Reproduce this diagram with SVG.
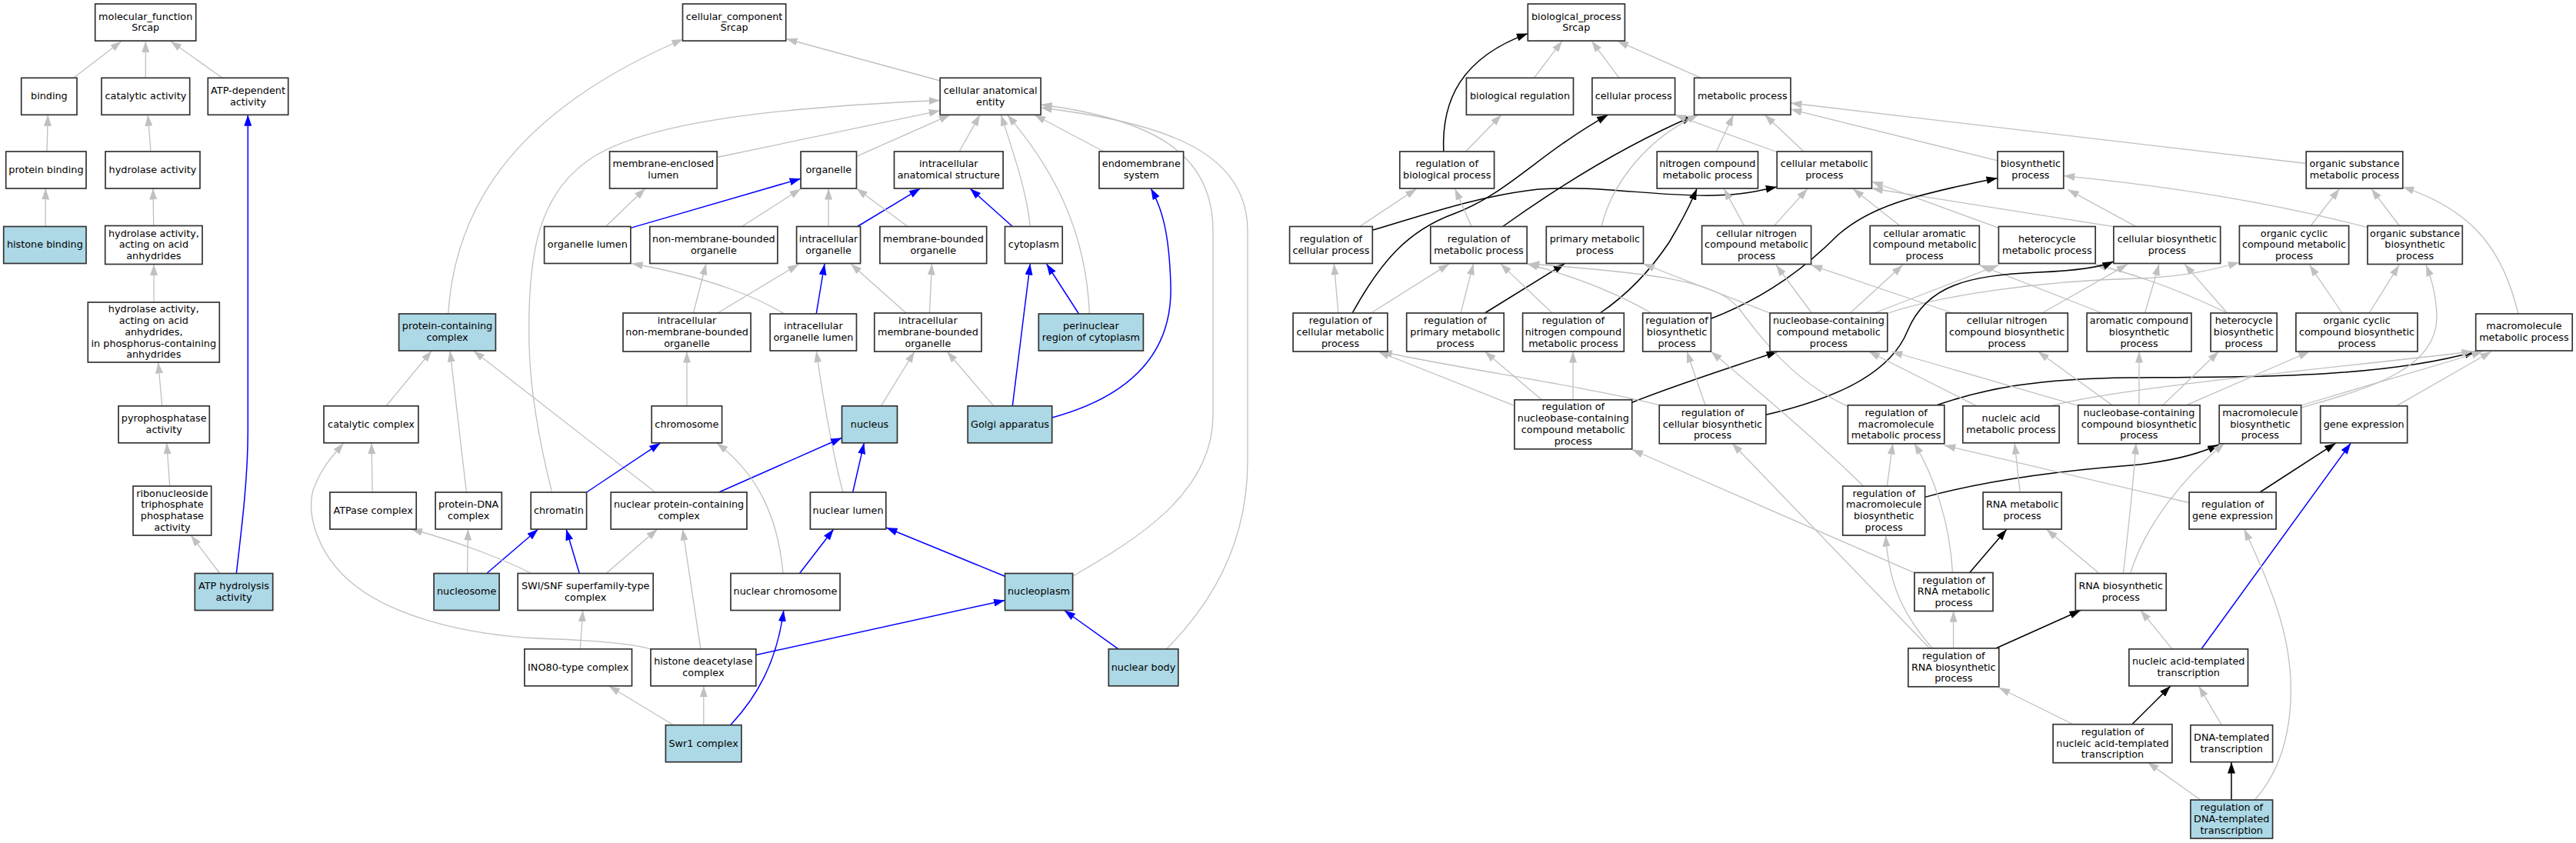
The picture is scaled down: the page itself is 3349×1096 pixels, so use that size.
<svg xmlns="http://www.w3.org/2000/svg" width="3349" height="1096" viewBox="0 0 3349 1096">
<style>
.n rect{fill:#fff;stroke:#333;stroke-width:1.7}
.n.b rect{fill:#add8e6}
text{font-family:"DejaVu Sans","Liberation Sans",sans-serif;font-size:12.8px;text-anchor:middle;fill:#000}
#edges path{fill:none;stroke-width:1.3}
#edges .g{stroke:#c0c0c0;marker-end:url(#ag)}
#edges .u{stroke:#0000ff;stroke-width:1.5;marker-end:url(#ab)}
#edges .k{stroke:#000;stroke-width:1.5;marker-end:url(#ak)}
</style>
<defs>
<marker id="ag" viewBox="0 0 14.5 10" refX="14.5" refY="5" markerWidth="14.5" markerHeight="10" markerUnits="userSpaceOnUse" orient="auto"><path d="M0,0 L14.5,5 L0,10 z" fill="#c0c0c0"/></marker>
<marker id="ab" viewBox="0 0 14.5 10" refX="14.5" refY="5" markerWidth="14.5" markerHeight="10" markerUnits="userSpaceOnUse" orient="auto"><path d="M0,0 L14.5,5 L0,10 z" fill="#0000ff"/></marker>
<marker id="ak" viewBox="0 0 14.5 10" refX="14.5" refY="5" markerWidth="14.5" markerHeight="10" markerUnits="userSpaceOnUse" orient="auto"><path d="M0,0 L14.5,5 L0,10 z" fill="#000"/></marker>
</defs>
<rect width="3349" height="1096" fill="#fff"/>
<g id="edges">
<path class="g" d="M96,101 L158,53.5"/>
<path class="g" d="M189.3,101 L189.3,53.5"/>
<path class="g" d="M288.7,101 L221.7,53.5"/>
<path class="g" d="M61,197 L62.3,149.3"/>
<path class="g" d="M196,197 L192.3,149.3"/>
<path class="g" d="M59,294.5 L59.3,245"/>
<path class="g" d="M199.7,293.5 L199,245"/>
<path class="g" d="M200,393 L200,343.5"/>
<path class="g" d="M210.7,527.8 L205.7,471"/>
<path class="g" d="M220.7,632 L216.7,575.8"/>
<path class="g" d="M285.7,745.5 L248.3,696"/>
<path class="u" d="M307.3,745.5 C315,680 322.3,620 322.3,560 L322.3,149.3"/>
<path class="g" d="M1222.2,105 L1022,50.5"/>
<path class="g" d="M582.7,408 C592,260 680,140 888,51"/>
<path class="g" d="M932.2,204.5 L1222.2,143.8"/>
<path class="g" d="M717.5,639.8 C705,590 690,520 688,450 C685,330 700,250 770,205 C840,160 1000,140 1222.2,130.5"/>
<path class="g" d="M1113.5,203.4 L1235.3,149.3"/>
<path class="g" d="M1247.1,197 L1274,149.3"/>
<path class="g" d="M1339.3,294.5 C1335,250 1318,200 1301.3,149.3"/>
<path class="g" d="M1416.4,408 C1412,300 1370,220 1309.6,149.3"/>
<path class="g" d="M1435,197 L1344.8,149.3"/>
<path class="g" d="M1394.6,749.2 C1480,700 1577,640 1577,540 L1577,300 C1577,200 1500,155 1353.1,136"/>
<path class="g" d="M1516.8,843.5 C1580,780 1622,700 1622,600 L1622,300 C1622,200 1520,160 1353.1,140"/>
<path class="g" d="M787.5,294.5 L838.9,245"/>
<path class="u" d="M819.9,296.4 L1041.1,232.2"/>
<path class="g" d="M964.6,294.5 L1041.1,245.5"/>
<path class="g" d="M901.4,407 L918,343"/>
<path class="g" d="M933,407 L1038.4,343.5"/>
<path class="g" d="M1019,407.6 C990,390 930,362 821,342.5"/>
<path class="g" d="M1077.1,294.5 L1077.1,245"/>
<path class="u" d="M1114.7,294.5 L1196.5,245"/>
<path class="g" d="M1180,294.5 L1113.5,245"/>
<path class="u" d="M1316.3,294.5 L1261,245"/>
<path class="u" d="M1061.3,407.6 L1072,343"/>
<path class="g" d="M1178,407 L1106,343"/>
<path class="g" d="M1208.4,407 L1211.5,343"/>
<path class="u" d="M1402.5,408 L1360.6,343"/>
<path class="u" d="M1316.3,527.8 L1339.3,343"/>
<path class="u" d="M1367.7,543 C1470,515 1525,460 1522,370 C1520,300 1510,270 1496.2,245"/>
<path class="g" d="M1291.8,527.8 L1231.3,457"/>
<path class="g" d="M1145.5,527.8 L1189,457"/>
<path class="g" d="M1096,640 C1085,600 1070,520 1061.3,456.5"/>
<path class="g" d="M893,527.8 L893,457"/>
<path class="g" d="M502,527.8 L561.3,456"/>
<path class="g" d="M606.4,640 L585,456"/>
<path class="g" d="M852,640 L615.5,456"/>
<path class="g" d="M484.2,640 L483,575.8"/>
<path class="g" d="M846,844 C820,836 760,832 700,830 C600,825 510,800 460,760 C410,720 395,660 410,630 C420,605 435,590 446.7,576"/>
<path class="g" d="M607.6,745 L608.4,688"/>
<path class="u" d="M633.3,745 L699.7,688"/>
<path class="g" d="M689.8,745 C660,730 600,705 534.4,688"/>
<path class="u" d="M753.1,745 L736.1,688"/>
<path class="g" d="M788.7,745 L854.7,688"/>
<path class="u" d="M762.6,640 L858.7,575.8"/>
<path class="u" d="M934.6,640 L1094.5,569.2"/>
<path class="g" d="M1018,745 C1012,680 990,620 931.8,576"/>
<path class="g" d="M754.3,843.8 L757.8,793.5"/>
<path class="g" d="M910.9,843.8 L887.5,688"/>
<path class="g" d="M875.7,942.8 L791.5,891.8"/>
<path class="g" d="M914.8,942.8 L914.8,891.8"/>
<path class="u" d="M949.6,942.8 C985,905 1010,860 1018.8,793.5"/>
<path class="u" d="M982.8,851.5 L1306.5,780.5"/>
<path class="u" d="M1039.5,745.5 L1083.8,688"/>
<path class="u" d="M1108.7,640 L1123.4,575.8"/>
<path class="u" d="M1306.5,749.2 L1152.2,686"/>
<path class="u" d="M1454,843.8 L1383.6,793.5"/>
<path class="g" d="M1994.4,101.4 L2031,53.2"/>
<path class="g" d="M2105,101.4 L2069.2,53.2"/>
<path class="g" d="M2211.6,101.4 L2102.5,53.2"/>
<path class="k" d="M1876.8,197 C1874,130 1900,75 1986.3,43.6"/>
<path class="g" d="M1905.6,197 L1951.9,149.3"/>
<path class="k" d="M1757.6,408 C1795,340 1830,300 1890,278 C1960,252 2000,200 2090.6,149.3"/>
<path class="k" d="M1784.3,299.3 C1850,280 1920,255 2000,246 C2080,240 2150,256 2230,254 C2270,253 2290,247 2310.2,243"/>
<path class="k" d="M1953.7,294.5 C2030,240 2110,190 2201,151"/>
<path class="g" d="M1913,294.5 L1891.6,245.4"/>
<path class="g" d="M1767.6,294.5 L1841.6,245.4"/>
<path class="g" d="M2082.1,294.5 C2095,240 2140,180 2208,149.3"/>
<path class="g" d="M2311,198 L2177.6,149.3"/>
<path class="g" d="M2231.4,197 L2253.6,149.3"/>
<path class="g" d="M2345,197 L2294.3,149.3"/>
<path class="g" d="M2597,208.9 L2328,142.1"/>
<path class="g" d="M2998.2,212.5 L2328,134"/>
<path class="g" d="M2267.7,293.6 L2241.4,245.4"/>
<path class="g" d="M2306.5,293.6 L2349.8,245.4"/>
<path class="g" d="M2470,293.6 L2409,245.4"/>
<path class="g" d="M2598.4,296.4 L2433.4,236"/>
<path class="g" d="M2748,294.6 L2433.4,245"/>
<path class="g" d="M2777,294.6 L2688.3,246.4"/>
<path class="g" d="M3078,295.7 C2980,270 2850,245 2682.8,228.6"/>
<path class="g" d="M3120,294.5 L3083,245.4"/>
<path class="g" d="M3003.4,294.5 L3041.4,245.4"/>
<path class="g" d="M3274,408 C3255,330 3220,275 3123.8,243"/>
<path class="g" d="M1739.9,407 L1734.3,342.9"/>
<path class="g" d="M1782.4,407 L1884.2,342.9"/>
<path class="g" d="M1899,407 L1915.6,342.9"/>
<path class="k" d="M1930.4,407 L2034,342.9"/>
<path class="g" d="M2018,407 L1950.8,342.9"/>
<path class="k" d="M2080.2,407 C2120,380 2150,345 2170,315 C2185,290 2198,265 2206,245.4"/>
<path class="g" d="M2146.8,407 C2100,380 2050,360 1985.2,343"/>
<path class="k" d="M2224.4,414.3 C2300,385 2350,345 2390,305 C2430,270 2480,255 2597,231.4"/>
<path class="g" d="M2355.4,407 L2309.1,344.6"/>
<path class="g" d="M2405.3,407 L2473.8,344.6"/>
<path class="g" d="M2436.8,407 L2598.4,344.6"/>
<path class="g" d="M2455.3,407 C2520,385 2650,365 2780,362 C2840,360 2880,350 2911.4,341"/>
<path class="g" d="M2301,407 L2136.5,343"/>
<path class="g" d="M2538.5,407 L2354.6,344.6"/>
<path class="g" d="M2655,407 L2766,343.6"/>
<path class="g" d="M2733,407 L2573.3,344.6"/>
<path class="g" d="M2788.5,407 L2807,343.6"/>
<path class="g" d="M2895.6,407 L2840.2,343.6"/>
<path class="g" d="M2895.6,407 C2850,385 2790,360 2724.2,344"/>
<path class="g" d="M3045,407 L3002.6,344.6"/>
<path class="g" d="M3080.2,407 L3119,344.6"/>
<path class="g" d="M2004.4,519.8 L1930.4,457"/>
<path class="g" d="M2045,519.8 L2045,457"/>
<path class="g" d="M1967.4,526.8 L1791.7,457"/>
<path class="k" d="M2121.7,523.2 C2180,500 2250,478 2311,457"/>
<path class="g" d="M2158,526.8 C2050,500 1900,480 1795.4,457"/>
<path class="g" d="M2217,526.8 L2193,457"/>
<path class="k" d="M2295.8,539.3 C2400,515 2460,480 2480,430 C2505,370 2560,358 2650,354 C2700,352 2730,348 2747.9,340"/>
<path class="g" d="M2402.7,528.6 C2330,495 2290,440 2260,400 C2230,365 2150,355 1987,343"/>
<path class="k" d="M2518,526.8 C2580,505 2650,492 2770,491 C2950,490 3100,490 3218.7,457"/>
<path class="g" d="M2570,527.9 L2429.4,457"/>
<path class="g" d="M2666,527.9 C2750,505 3000,482 3215,457"/>
<path class="g" d="M2703,527.9 L2459,457"/>
<path class="g" d="M2747.5,527.9 L2649.5,457"/>
<path class="g" d="M2781,527.9 L2781,457"/>
<path class="g" d="M2810.6,527.9 L2884.5,457"/>
<path class="g" d="M2840,527.9 L3002.6,457"/>
<path class="g" d="M2991.6,527 L3227.9,457"/>
<path class="g" d="M2991.6,530 C3080,505 3170,480 3168,410 C3167,380 3160,360 3154,344.6"/>
<path class="g" d="M3115.3,527.9 L3239,457"/>
<path class="g" d="M2453.4,631.5 L2460.8,576.2"/>
<path class="g" d="M2422,631.5 C2380,590 2300,520 2224.4,457"/>
<path class="k" d="M2502.6,646.4 C2580,625 2680,612 2770,605 C2820,600 2860,590 2884.5,578"/>
<path class="g" d="M2626.2,640 L2619.2,576.2"/>
<path class="g" d="M2845.7,653.5 L2527.8,579"/>
<path class="k" d="M2938,640 L3036.6,576.2"/>
<path class="g" d="M2488.6,744.6 L2121.7,584.5"/>
<path class="g" d="M2538.5,744.6 C2535,680 2515,620 2488.6,576.2"/>
<path class="k" d="M2560.7,744.6 L2608.8,688.2"/>
<path class="g" d="M2728,744.6 L2660.6,688.2"/>
<path class="g" d="M2760.5,744.6 C2768,680 2774,620 2777,576.2"/>
<path class="g" d="M2770,744.6 C2790,680 2840,620 2891.9,576.2"/>
<path class="k" d="M2594,843.2 L2705,793.5"/>
<path class="g" d="M2539.6,843.2 L2539.6,794.3"/>
<path class="g" d="M2512.6,843.2 C2475,800 2455,760 2451.6,696"/>
<path class="g" d="M2509,843.2 L2251.8,576.2"/>
<path class="g" d="M2823.5,843.2 L2783,793.5"/>
<path class="u" d="M2862.3,843.2 L3056.2,576.2"/>
<path class="k" d="M2771.6,942 L2821.7,892.1"/>
<path class="g" d="M2695.7,942 L2598.8,894"/>
<path class="g" d="M2888.2,942.5 L2858.6,892.1"/>
<path class="k" d="M2901,1041 L2901,991"/>
<path class="g" d="M2862.3,1041 L2792,991"/>
<path class="g" d="M2930.6,1041 C2985,980 2990,880 2960,790 C2945,745 2930,715 2917.7,688.2"/>
</g>
<g id="n_mf" class="n"><rect x="123.7" y="5.1" width="131" height="48"/><text x="189.2" y="25.5"><tspan x="189.2">molecular_function</tspan><tspan x="189.2" dy="14.8">Srcap</tspan></text></g>
<g id="n_binding" class="n"><rect x="27.7" y="101.3" width="72.3" height="48"/><text x="63.9" y="129.1">binding</text></g>
<g id="n_catalytic" class="n"><rect x="132" y="101.3" width="114.7" height="48"/><text x="189.4" y="129.1">catalytic activity</text></g>
<g id="n_atpdep" class="n"><rect x="270.3" y="101.3" width="104.4" height="48"/><text x="322.5" y="121.7"><tspan x="322.5">ATP-dependent</tspan><tspan x="322.5" dy="14.8">activity</tspan></text></g>
<g id="n_protbind" class="n"><rect x="7.7" y="197" width="104.3" height="48"/><text x="59.9" y="224.8">protein binding</text></g>
<g id="n_hydrolase" class="n"><rect x="137" y="197" width="123" height="48"/><text x="198.5" y="224.8">hydrolase activity</text></g>
<g id="n_histone" class="n b"><rect x="4.7" y="294.5" width="107.3" height="48"/><text x="58.4" y="322.3">histone binding</text></g>
<g id="n_hydacid" class="n"><rect x="136.7" y="293.5" width="126.3" height="50"/><text x="199.9" y="307.5"><tspan x="199.9">hydrolase activity,</tspan><tspan x="199.9" dy="14.8">acting on acid</tspan><tspan x="199.9" dy="14.8">anhydrides</tspan></text></g>
<g id="n_hydphos" class="n"><rect x="114.3" y="393" width="171" height="78"/><text x="199.8" y="406.2"><tspan x="199.8">hydrolase activity,</tspan><tspan x="199.8" dy="14.8">acting on acid</tspan><tspan x="199.8" dy="14.8">anhydrides,</tspan><tspan x="199.8" dy="14.8">in phosphorus-containing</tspan><tspan x="199.8" dy="14.8">anhydrides</tspan></text></g>
<g id="n_pyro" class="n"><rect x="154" y="527.8" width="118.3" height="48"/><text x="213.2" y="548.2"><tspan x="213.2">pyrophosphatase</tspan><tspan x="213.2" dy="14.8">activity</tspan></text></g>
<g id="n_ribo" class="n"><rect x="173" y="632" width="101.7" height="64"/><text x="223.9" y="645.6"><tspan x="223.9">ribonucleoside</tspan><tspan x="223.9" dy="14.8">triphosphate</tspan><tspan x="223.9" dy="14.8">phosphatase</tspan><tspan x="223.9" dy="14.8">activity</tspan></text></g>
<g id="n_atphyd" class="n b"><rect x="253.3" y="745.5" width="101.4" height="48"/><text x="304" y="765.9"><tspan x="304">ATP hydrolysis</tspan><tspan x="304" dy="14.8">activity</tspan></text></g>
<g id="n_cc" class="n"><rect x="887.5" y="5.1" width="134.2" height="48"/><text x="954.6" y="25.5"><tspan x="954.6">cellular_component</tspan><tspan x="954.6" dy="14.8">Srcap</tspan></text></g>
<g id="n_cae" class="n"><rect x="1222.2" y="101.3" width="130.9" height="48"/><text x="1287.7" y="121.7"><tspan x="1287.7">cellular anatomical</tspan><tspan x="1287.7" dy="14.8">entity</tspan></text></g>
<g id="n_mel" class="n"><rect x="792.6" y="197" width="139.6" height="48"/><text x="862.4" y="217.4"><tspan x="862.4">membrane-enclosed</tspan><tspan x="862.4" dy="14.8">lumen</tspan></text></g>
<g id="n_organelle" class="n"><rect x="1041.1" y="197" width="72.4" height="48"/><text x="1077.3" y="224.8">organelle</text></g>
<g id="n_ias" class="n"><rect x="1162.5" y="197" width="141.6" height="48"/><text x="1233.3" y="217.4"><tspan x="1233.3">intracellular</tspan><tspan x="1233.3" dy="14.8">anatomical structure</tspan></text></g>
<g id="n_endo" class="n"><rect x="1429" y="197" width="109.6" height="48"/><text x="1483.8" y="217.4"><tspan x="1483.8">endomembrane</tspan><tspan x="1483.8" dy="14.8">system</tspan></text></g>
<g id="n_orglumen" class="n"><rect x="707.6" y="294.5" width="112.3" height="48"/><text x="763.8" y="322.3">organelle lumen</text></g>
<g id="n_nmbo" class="n"><rect x="844.8" y="294.5" width="166.1" height="48"/><text x="927.9" y="314.9"><tspan x="927.9">non-membrane-bounded</tspan><tspan x="927.9" dy="14.8">organelle</tspan></text></g>
<g id="n_intorg" class="n"><rect x="1035.6" y="294.5" width="83" height="48"/><text x="1077.1" y="314.9"><tspan x="1077.1">intracellular</tspan><tspan x="1077.1" dy="14.8">organelle</tspan></text></g>
<g id="n_mbo" class="n"><rect x="1143.9" y="294.5" width="138.8" height="48"/><text x="1213.3" y="314.9"><tspan x="1213.3">membrane-bounded</tspan><tspan x="1213.3" dy="14.8">organelle</tspan></text></g>
<g id="n_cytoplasm" class="n"><rect x="1306.5" y="294.5" width="74.7" height="48"/><text x="1343.9" y="322.3">cytoplasm</text></g>
<g id="n_pcc" class="n b"><rect x="518.6" y="408" width="125.8" height="48"/><text x="581.5" y="428.4"><tspan x="581.5">protein-containing</tspan><tspan x="581.5" dy="14.8">complex</tspan></text></g>
<g id="n_inmbo" class="n"><rect x="810" y="407" width="166.1" height="50"/><text x="893.1" y="421"><tspan x="893.1">intracellular</tspan><tspan x="893.1" dy="14.8">non-membrane-bounded</tspan><tspan x="893.1" dy="14.8">organelle</tspan></text></g>
<g id="n_iol" class="n"><rect x="1001.2" y="408" width="112.3" height="48"/><text x="1057.4" y="428.4"><tspan x="1057.4">intracellular</tspan><tspan x="1057.4" dy="14.8">organelle lumen</tspan></text></g>
<g id="n_imbo" class="n"><rect x="1136.8" y="407" width="139.2" height="50"/><text x="1206.4" y="421"><tspan x="1206.4">intracellular</tspan><tspan x="1206.4" dy="14.8">membrane-bounded</tspan><tspan x="1206.4" dy="14.8">organelle</tspan></text></g>
<g id="n_perinuc" class="n b"><rect x="1350.3" y="408" width="136.1" height="48"/><text x="1418.4" y="428.4"><tspan x="1418.4">perinuclear</tspan><tspan x="1418.4" dy="14.8">region of cytoplasm</tspan></text></g>
<g id="n_catcomplex" class="n"><rect x="421" y="527.8" width="122.9" height="48"/><text x="482.5" y="555.6">catalytic complex</text></g>
<g id="n_chromosome" class="n"><rect x="847.2" y="527.8" width="91.4" height="48"/><text x="892.9" y="555.6">chromosome</text></g>
<g id="n_nucleus" class="n b"><rect x="1094.5" y="527.8" width="72" height="48"/><text x="1130.5" y="555.6">nucleus</text></g>
<g id="n_golgi" class="n b"><rect x="1258.2" y="527.8" width="109.5" height="48"/><text x="1313" y="555.6">Golgi apparatus</text></g>
<g id="n_atpase" class="n"><rect x="428.9" y="640" width="112.3" height="48"/><text x="485.1" y="667.8">ATPase complex</text></g>
<g id="n_pdna" class="n"><rect x="566.1" y="640" width="86.2" height="48"/><text x="609.2" y="660.4"><tspan x="609.2">protein-DNA</tspan><tspan x="609.2" dy="14.8">complex</tspan></text></g>
<g id="n_chromatin" class="n"><rect x="690.2" y="640" width="72.4" height="48"/><text x="726.4" y="667.8">chromatin</text></g>
<g id="n_npcc" class="n"><rect x="794.2" y="640" width="176.8" height="48"/><text x="882.6" y="660.4"><tspan x="882.6">nuclear protein-containing</tspan><tspan x="882.6" dy="14.8">complex</tspan></text></g>
<g id="n_nlumen" class="n"><rect x="1053.4" y="640" width="98.4" height="48"/><text x="1102.6" y="667.8">nuclear lumen</text></g>
<g id="n_nucleosome" class="n b"><rect x="564.1" y="745.5" width="85" height="48"/><text x="606.6" y="773.3">nucleosome</text></g>
<g id="n_swisnf" class="n"><rect x="673.2" y="745.5" width="176" height="48"/><text x="761.2" y="765.9"><tspan x="761.2">SWI/SNF superfamily-type</tspan><tspan x="761.2" dy="14.8">complex</tspan></text></g>
<g id="n_nchrom" class="n"><rect x="950" y="745.5" width="142.1" height="48"/><text x="1021" y="773.3">nuclear chromosome</text></g>
<g id="n_nucleoplasm" class="n b"><rect x="1306.5" y="745.5" width="88.1" height="48"/><text x="1350.5" y="773.3">nucleoplasm</text></g>
<g id="n_ino80" class="n"><rect x="681.9" y="843.8" width="139.6" height="48"/><text x="751.7" y="871.6">INO80-type complex</text></g>
<g id="n_hdac" class="n"><rect x="846" y="843.8" width="136.8" height="48"/><text x="914.4" y="864.2"><tspan x="914.4">histone deacetylase</tspan><tspan x="914.4" dy="14.8">complex</tspan></text></g>
<g id="n_nbody" class="n b"><rect x="1441.3" y="843.8" width="90.5" height="48"/><text x="1486.5" y="871.6">nuclear body</text></g>
<g id="n_swr1" class="n b"><rect x="865.4" y="942.7" width="98.5" height="48"/><text x="914.6" y="970.5">Swr1 complex</text></g>
<g id="n_bp" class="n"><rect x="1986.3" y="5.1" width="126.1" height="48"/><text x="2049.3" y="25.5"><tspan x="2049.3">biological_process</tspan><tspan x="2049.3" dy="14.8">Srcap</tspan></text></g>
<g id="n_bioreg" class="n"><rect x="1906.4" y="101.3" width="139.1" height="48"/><text x="1976" y="129.1">biological regulation</text></g>
<g id="n_cellproc" class="n"><rect x="2069.9" y="101.3" width="107.7" height="48"/><text x="2123.7" y="129.1">cellular process</text></g>
<g id="n_metab" class="n"><rect x="2202.6" y="101.3" width="125.4" height="48"/><text x="2265.3" y="129.1">metabolic process</text></g>
<g id="n_regbio" class="n"><rect x="1819.8" y="197" width="122.8" height="48"/><text x="1881.2" y="217.4"><tspan x="1881.2">regulation of</tspan><tspan x="1881.2" dy="14.8">biological process</tspan></text></g>
<g id="n_ncmp" class="n"><rect x="2154.2" y="197" width="131.3" height="48"/><text x="2219.8" y="217.4"><tspan x="2219.8">nitrogen compound</tspan><tspan x="2219.8" dy="14.8">metabolic process</tspan></text></g>
<g id="n_cmp" class="n"><rect x="2310.2" y="197" width="123.2" height="48"/><text x="2371.8" y="217.4"><tspan x="2371.8">cellular metabolic</tspan><tspan x="2371.8" dy="14.8">process</tspan></text></g>
<g id="n_biosyn" class="n"><rect x="2597" y="197" width="85.8" height="48"/><text x="2639.9" y="217.4"><tspan x="2639.9">biosynthetic</tspan><tspan x="2639.9" dy="14.8">process</tspan></text></g>
<g id="n_osmp" class="n"><rect x="2998.2" y="197" width="125.6" height="48"/><text x="3061" y="217.4"><tspan x="3061">organic substance</tspan><tspan x="3061" dy="14.8">metabolic process</tspan></text></g>
<g id="n_regcell" class="n"><rect x="1676.6" y="294.5" width="107.7" height="48"/><text x="1730.4" y="314.9"><tspan x="1730.4">regulation of</tspan><tspan x="1730.4" dy="14.8">cellular process</tspan></text></g>
<g id="n_regmet" class="n"><rect x="1859.8" y="294.5" width="125.4" height="48"/><text x="1922.5" y="314.9"><tspan x="1922.5">regulation of</tspan><tspan x="1922.5" dy="14.8">metabolic process</tspan></text></g>
<g id="n_primary" class="n"><rect x="2010.3" y="294.5" width="126.2" height="48"/><text x="2073.4" y="314.9"><tspan x="2073.4">primary metabolic</tspan><tspan x="2073.4" dy="14.8">process</tspan></text></g>
<g id="n_cncmp" class="n"><rect x="2212.6" y="293.5" width="142" height="50"/><text x="2283.6" y="307.5"><tspan x="2283.6">cellular nitrogen</tspan><tspan x="2283.6" dy="14.8">compound metabolic</tspan><tspan x="2283.6" dy="14.8">process</tspan></text></g>
<g id="n_cacmp" class="n"><rect x="2431.2" y="293.5" width="142.1" height="50"/><text x="2502.2" y="307.5"><tspan x="2502.2">cellular aromatic</tspan><tspan x="2502.2" dy="14.8">compound metabolic</tspan><tspan x="2502.2" dy="14.8">process</tspan></text></g>
<g id="n_hetmp" class="n"><rect x="2598.4" y="294.5" width="125.8" height="48"/><text x="2661.3" y="314.9"><tspan x="2661.3">heterocycle</tspan><tspan x="2661.3" dy="14.8">metabolic process</tspan></text></g>
<g id="n_cbp" class="n"><rect x="2747.9" y="294.5" width="138.8" height="48"/><text x="2817.3" y="314.9"><tspan x="2817.3">cellular biosynthetic</tspan><tspan x="2817.3" dy="14.8">process</tspan></text></g>
<g id="n_occmp" class="n"><rect x="2911.4" y="293.5" width="142.2" height="50"/><text x="2982.5" y="307.5"><tspan x="2982.5">organic cyclic</tspan><tspan x="2982.5" dy="14.8">compound metabolic</tspan><tspan x="2982.5" dy="14.8">process</tspan></text></g>
<g id="n_osbp" class="n"><rect x="3078" y="293.5" width="123.3" height="50"/><text x="3139.6" y="307.5"><tspan x="3139.6">organic substance</tspan><tspan x="3139.6" dy="14.8">biosynthetic</tspan><tspan x="3139.6" dy="14.8">process</tspan></text></g>
<g id="n_regcellmet" class="n"><rect x="1681.1" y="407" width="122.8" height="50"/><text x="1742.5" y="421"><tspan x="1742.5">regulation of</tspan><tspan x="1742.5" dy="14.8">cellular metabolic</tspan><tspan x="1742.5" dy="14.8">process</tspan></text></g>
<g id="n_regprim" class="n"><rect x="1828.7" y="407" width="126.5" height="50"/><text x="1892" y="421"><tspan x="1892">regulation of</tspan><tspan x="1892" dy="14.8">primary metabolic</tspan><tspan x="1892" dy="14.8">process</tspan></text></g>
<g id="n_regnit" class="n"><rect x="1979.6" y="407" width="131.7" height="50"/><text x="2045.4" y="421"><tspan x="2045.4">regulation of</tspan><tspan x="2045.4" dy="14.8">nitrogen compound</tspan><tspan x="2045.4" dy="14.8">metabolic process</tspan></text></g>
<g id="n_regbiosyn" class="n"><rect x="2135.7" y="407" width="88.7" height="50"/><text x="2180" y="421"><tspan x="2180">regulation of</tspan><tspan x="2180" dy="14.8">biosynthetic</tspan><tspan x="2180" dy="14.8">process</tspan></text></g>
<g id="n_nbcmp" class="n"><rect x="2301" y="407" width="152.8" height="50"/><text x="2377.4" y="421"><tspan x="2377.4">nucleobase-containing</tspan><tspan x="2377.4" dy="14.8">compound metabolic</tspan><tspan x="2377.4" dy="14.8">process</tspan></text></g>
<g id="n_cncbp" class="n"><rect x="2530" y="407" width="158.3" height="50"/><text x="2609.1" y="421"><tspan x="2609.1">cellular nitrogen</tspan><tspan x="2609.1" dy="14.8">compound biosynthetic</tspan><tspan x="2609.1" dy="14.8">process</tspan></text></g>
<g id="n_acbp" class="n"><rect x="2713.1" y="407" width="135.9" height="50"/><text x="2781" y="421"><tspan x="2781">aromatic compound</tspan><tspan x="2781" dy="14.8">biosynthetic</tspan><tspan x="2781" dy="14.8">process</tspan></text></g>
<g id="n_hetbp" class="n"><rect x="2874.1" y="407" width="86.1" height="50"/><text x="2917.1" y="421"><tspan x="2917.1">heterocycle</tspan><tspan x="2917.1" dy="14.8">biosynthetic</tspan><tspan x="2917.1" dy="14.8">process</tspan></text></g>
<g id="n_occbp" class="n"><rect x="2984.9" y="407" width="158.1" height="50"/><text x="3064" y="421"><tspan x="3064">organic cyclic</tspan><tspan x="3064" dy="14.8">compound biosynthetic</tspan><tspan x="3064" dy="14.8">process</tspan></text></g>
<g id="n_mmp" class="n"><rect x="3218.7" y="408" width="125.5" height="48"/><text x="3281.4" y="428.4"><tspan x="3281.4">macromolecule</tspan><tspan x="3281.4" dy="14.8">metabolic process</tspan></text></g>
<g id="n_regnbc" class="n"><rect x="1968.9" y="519.8" width="152.8" height="64"/><text x="2045.3" y="533.4"><tspan x="2045.3">regulation of</tspan><tspan x="2045.3" dy="14.8">nucleobase-containing</tspan><tspan x="2045.3" dy="14.8">compound metabolic</tspan><tspan x="2045.3" dy="14.8">process</tspan></text></g>
<g id="n_regcbp" class="n"><rect x="2157.2" y="526.8" width="138.6" height="50"/><text x="2226.5" y="540.8"><tspan x="2226.5">regulation of</tspan><tspan x="2226.5" dy="14.8">cellular biosynthetic</tspan><tspan x="2226.5" dy="14.8">process</tspan></text></g>
<g id="n_regmmp" class="n"><rect x="2402.4" y="526.8" width="125.4" height="50"/><text x="2465.1" y="540.8"><tspan x="2465.1">regulation of</tspan><tspan x="2465.1" dy="14.8">macromolecule</tspan><tspan x="2465.1" dy="14.8">metabolic process</tspan></text></g>
<g id="n_namp" class="n"><rect x="2551.8" y="527.8" width="125.4" height="48"/><text x="2614.5" y="548.2"><tspan x="2614.5">nucleic acid</tspan><tspan x="2614.5" dy="14.8">metabolic process</tspan></text></g>
<g id="n_nbcbp" class="n"><rect x="2701.7" y="526.8" width="158.4" height="50"/><text x="2780.9" y="540.8"><tspan x="2780.9">nucleobase-containing</tspan><tspan x="2780.9" dy="14.8">compound biosynthetic</tspan><tspan x="2780.9" dy="14.8">process</tspan></text></g>
<g id="n_mbp" class="n"><rect x="2885.2" y="526.8" width="106.4" height="50"/><text x="2938.4" y="540.8"><tspan x="2938.4">macromolecule</tspan><tspan x="2938.4" dy="14.8">biosynthetic</tspan><tspan x="2938.4" dy="14.8">process</tspan></text></g>
<g id="n_geneexp" class="n"><rect x="3016.7" y="527.8" width="113" height="48"/><text x="3073.2" y="555.6">gene expression</text></g>
<g id="n_regmbp" class="n"><rect x="2395.7" y="632" width="106.9" height="64"/><text x="2449.2" y="645.6"><tspan x="2449.2">regulation of</tspan><tspan x="2449.2" dy="14.8">macromolecule</tspan><tspan x="2449.2" dy="14.8">biosynthetic</tspan><tspan x="2449.2" dy="14.8">process</tspan></text></g>
<g id="n_rnamp" class="n"><rect x="2578.1" y="640" width="102.1" height="48"/><text x="2629.2" y="660.4"><tspan x="2629.2">RNA metabolic</tspan><tspan x="2629.2" dy="14.8">process</tspan></text></g>
<g id="n_reggene" class="n"><rect x="2846.1" y="640" width="113" height="48"/><text x="2902.6" y="660.4"><tspan x="2902.6">regulation of</tspan><tspan x="2902.6" dy="14.8">gene expression</tspan></text></g>
<g id="n_regrnamp" class="n"><rect x="2488.9" y="744.5" width="102.1" height="50"/><text x="2540" y="758.5"><tspan x="2540">regulation of</tspan><tspan x="2540" dy="14.8">RNA metabolic</tspan><tspan x="2540" dy="14.8">process</tspan></text></g>
<g id="n_rnabp" class="n"><rect x="2698.3" y="745.5" width="117.9" height="48"/><text x="2757.3" y="765.9"><tspan x="2757.3">RNA biosynthetic</tspan><tspan x="2757.3" dy="14.8">process</tspan></text></g>
<g id="n_regrnabp" class="n"><rect x="2480.8" y="842.8" width="118" height="50"/><text x="2539.8" y="856.8"><tspan x="2539.8">regulation of</tspan><tspan x="2539.8" dy="14.8">RNA biosynthetic</tspan><tspan x="2539.8" dy="14.8">process</tspan></text></g>
<g id="n_natt" class="n"><rect x="2767.9" y="843.8" width="154.6" height="48"/><text x="2845.2" y="864.2"><tspan x="2845.2">nucleic acid-templated</tspan><tspan x="2845.2" dy="14.8">transcription</tspan></text></g>
<g id="n_regnatt" class="n"><rect x="2669.1" y="941.7" width="154.8" height="50"/><text x="2746.5" y="955.7"><tspan x="2746.5">regulation of</tspan><tspan x="2746.5" dy="14.8">nucleic acid-templated</tspan><tspan x="2746.5" dy="14.8">transcription</tspan></text></g>
<g id="n_dtt" class="n"><rect x="2847.9" y="942.7" width="106.7" height="48"/><text x="2901.3" y="963.1"><tspan x="2901.3">DNA-templated</tspan><tspan x="2901.3" dy="14.8">transcription</tspan></text></g>
<g id="n_regdtt" class="n b"><rect x="2847.9" y="1040" width="106.7" height="50"/><text x="2901.3" y="1054"><tspan x="2901.3">regulation of</tspan><tspan x="2901.3" dy="14.8">DNA-templated</tspan><tspan x="2901.3" dy="14.8">transcription</tspan></text></g>
</svg>
